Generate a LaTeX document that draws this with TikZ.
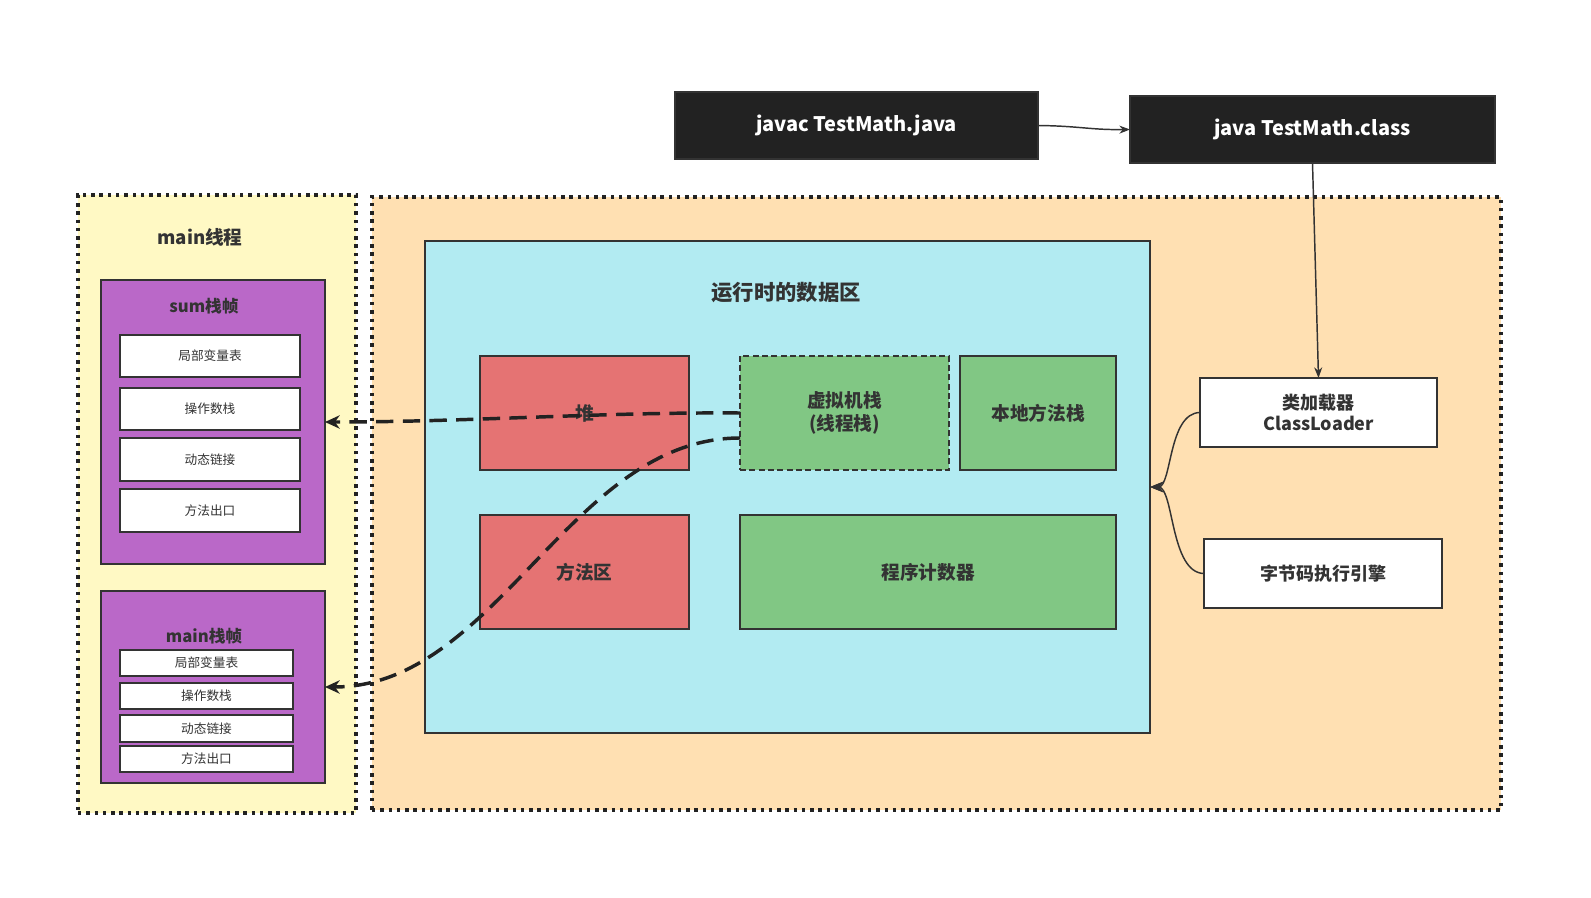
\documentclass[tikz,border=0pt]{standalone}
\usepackage{fontspec}
\setmainfont{Noto Sans CJK SC}
\usetikzlibrary{arrows.meta}
\definecolor{ylw}{HTML}{FFF9C4}
\definecolor{org}{HTML}{FFE0B2}
\definecolor{blu}{HTML}{B2EBF2}
\definecolor{redc}{HTML}{E57373}
\definecolor{grn}{HTML}{81C784}
\definecolor{pur}{HTML}{BA68C8}
\definecolor{drk}{HTML}{222222}
\definecolor{ln}{HTML}{333333}
\newcommand\rect[7]{\node[#1, minimum width={(#4-#2)*0.75pt}, minimum height={(#5-#3)*0.75pt}] (#6) at ({(#2+#4)/2},{(#3+#5)/2}) {#7};}
\begin{document}
\begin{tikzpicture}[x=0.75pt,y=-0.75pt,
  every node/.style={inner sep=0pt, outer sep=0pt, text=ln, align=center},
  box/.style={draw=ln, line width=1.5pt},
  dotbox/.style={draw=drk, line width=2.6pt, dash pattern=on 2.6pt off 3.6pt},
  blackbox/.style={box, fill=drk, text=white, font=\fontsize{15pt}{18pt}\selectfont\bfseries},
  whitebox/.style={box, fill=white, font=\fontsize{13.5pt}{16pt}\selectfont\bfseries},
  cellbox/.style={box, fill=white, font=\fontsize{9.5pt}{11pt}\selectfont},
  areabox/.style={box, font=\fontsize{14pt}{17.5pt}\selectfont\bfseries},
  title/.style={font=\fontsize{14pt}{17pt}\selectfont\bfseries},
  ftitle/.style={font=\fontsize{12.5pt}{15pt}\selectfont\bfseries},
  thinarrow/.style={draw=ln, line width=1.1pt, -{Stealth[length=8pt,width=6pt]}},
  sidearrow/.style={draw=ln, line width=1.1pt, -{Stealth[length=10pt,width=8pt]}},
  dasharrow/.style={draw=drk, line width=2.6pt, dash pattern=on 13pt off 7pt, -{Stealth[length=11pt,width=10pt]}},
]
\useasboundingbox (0,0) rectangle (1591,898);
\fill[white] (0,0) rectangle (1591,898);

% outer regions
\rect{dotbox, fill=ylw}{78}{195}{356}{813}{thread}{}
\rect{dotbox, fill=org}{372}{197}{1501}{810}{rt}{}
\node[title] (threadlbl) at (200,237) {main线程};

% sum frame
\rect{box, fill=pur}{101}{280}{325}{564}{sumf}{}
\node[ftitle] (sumlbl) at (204,306) {sum栈帧};
\rect{cellbox}{120}{335}{300}{377}{s1}{局部变量表}
\rect{cellbox}{120}{388}{300}{430}{s2}{操作数栈}
\rect{cellbox}{120}{438}{300}{481}{s3}{动态链接}
\rect{cellbox}{120}{489}{300}{532}{s4}{方法出口}

% main frame
\rect{box, fill=pur}{101}{591}{325}{783}{mainf}{}
\node[ftitle] (mainlbl) at (204,636) {main栈帧};
\rect{cellbox}{120}{650}{293}{676}{m1}{局部变量表}
\rect{cellbox}{120}{683}{293}{709}{m2}{操作数栈}
\rect{cellbox}{120}{715}{293}{742}{m3}{动态链接}
\rect{cellbox}{120}{746}{293}{772}{m4}{方法出口}

% runtime data area
\rect{box, fill=blu}{425}{241}{1150}{733}{blue}{}
\node[font=\fontsize{16pt}{19pt}\selectfont\bfseries] (bluelbl) at (786,293) {运行时的数据区};
\rect{areabox, fill=redc}{480}{356}{689}{470}{heap}{堆}
\rect{areabox, fill=grn, dash pattern=on 4.5pt off 2.5pt}{740}{356}{949}{470}{vm}{虚拟机栈\\(线程栈)}
\rect{areabox, fill=grn}{960}{356}{1116}{470}{native}{本地方法栈}
\rect{areabox, fill=redc}{480}{515}{689}{629}{method}{方法区}
\rect{areabox, fill=grn}{740}{515}{1116}{629}{pc}{程序计数器}

% top commands
\rect{blackbox}{675}{92}{1038}{159}{javac}{javac TestMath.java}
\rect{blackbox}{1130}{96}{1495}{163}{java}{java TestMath.class}

% loader / engine
\rect{whitebox}{1200}{378}{1437}{447}{cl}{类加载器\\ClassLoader}
\rect{whitebox}{1204}{539}{1442}{608}{engine}{字节码执行引擎}

% connectors
\draw[thinarrow] (javac.east) .. controls (1080,126) and (1090,130) .. (java.west);
\draw[thinarrow] (java.south) -- (cl.north);
\draw[sidearrow] (cl.west) .. controls (1168,413) and (1172,487) .. (blue.east);
\draw[sidearrow] (engine.west) .. controls (1170,573) and (1174,487) .. (blue.east);

\coordinate (vm2) at (740,438);
\draw[dasharrow] (vm.west) .. controls (600,412) and (470,422) .. (sumf.east);
\draw[dasharrow] (vm2) .. controls (570,438) and (497,687) .. (mainf.east);
\end{tikzpicture}
\end{document}
